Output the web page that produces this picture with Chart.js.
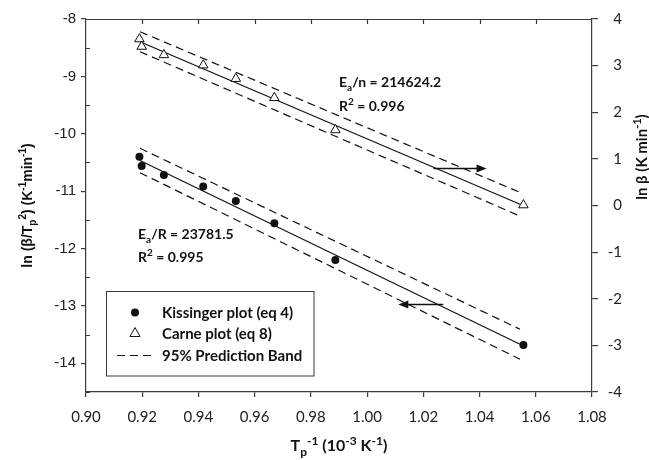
<!DOCTYPE html>
<html>
<head>
<meta charset="utf-8">
<script src="https://cdn.jsdelivr.net/npm/chart.js@4.4.0/dist/chart.umd.min.js"></script>
<style>
  html, body { margin: 0; padding: 0; background: #ffffff; }
  #caja { width: 649px; height: 460px; position: relative; }
</style>
</head>
<body>
<div id="caja"><canvas id="grafico"></canvas></div>
<script>
// datos
const invTp = [0.9190, 0.9198, 0.9277, 0.9417, 0.9533, 0.9670, 0.9887, 1.0556];
const kissinger = [-10.40, -10.56, -10.72, -10.92, -11.17, -11.56, -12.20, -13.68];
const carne = [3.57, 3.41, 3.23, 3.01, 2.72, 2.31, 1.62, 0.01];

// rectas de ajuste y bandas de prediccion (extremos)
const fitX = [0.9192, 1.0544];
const kisFit = [-10.465, -13.667];
const kisUpper = [-10.253, -13.406];
const kisLower = [-10.678, -13.929];
const carFit = [3.513, 0.026];
const carUpper = [3.727, 0.281];
const carLower = [3.298, -0.227];

const xTicks = [0.90, 0.92, 0.94, 0.96, 0.98, 1.00, 1.02, 1.04, 1.06, 1.08];
const leftTicks = [-14, -13, -12, -11, -10, -9, -8];
const rightTicks = [-4, -3, -2, -1, 0, 1, 2, 3, 4];
const legendLabels = ['Kissinger plot (eq 4)', 'Carne plot (eq 8)', '95% Prediction Band'];

const pts = (xs, ys) => xs.map((x, i) => ({ x: x, y: ys[i] }));
const INK = '#111111';
const AXIS = '#3a3a3a';

function richText(ctx, parts, x, y, size, family, align) {
    const small = Math.round(size * 0.72);
    const widths = parts.map(p => {
        ctx.font = 'bold ' + (p[1] === 'n' ? size : small) + 'px ' + family;
        return ctx.measureText(p[0]).width;
    });
    const total = widths.reduce((a, b) => a + b, 0);
    let cx = align === 'center' ? x - total / 2 : x;
    ctx.textAlign = 'left';
    ctx.textBaseline = 'alphabetic';
    parts.forEach((p, i) => {
        const s = p[1] === 'n' ? size : small;
        ctx.font = 'bold ' + s + 'px ' + family;
        const dy = p[1] === 'sub' ? size * 0.3 : (p[1] === 'sup' ? -size * 0.4 : 0);
        ctx.fillText(p[0], cx, y + dy);
        cx += widths[i];
    });
}

function arrow(ctx, x1, x2, y) {
    const dir = x2 > x1 ? 1 : -1;
    ctx.beginPath();
    ctx.moveTo(x1, y);
    ctx.lineTo(x2 - dir * 8, y);
    ctx.lineWidth = 1.5;
    ctx.stroke();
    ctx.beginPath();
    ctx.moveTo(x2, y);
    ctx.lineTo(x2 - dir * 10, y - 4);
    ctx.lineTo(x2 - dir * 10, y + 4);
    ctx.closePath();
    ctx.fill();
}

const extras = {
    id: 'extras',
    afterDraw(chart) {
        const ctx = chart.ctx;
        const a = chart.chartArea;
        const sx = chart.scales.x, sy = chart.scales.y, sy2 = chart.scales.y2;
        ctx.save();
        ctx.strokeStyle = AXIS;
        ctx.fillStyle = INK;
        ctx.lineWidth = 1.2;

        // marco superior con marcas hacia dentro
        ctx.beginPath();
        ctx.moveTo(a.left, a.top + 0.5);
        ctx.lineTo(a.right, a.top + 0.5);
        xTicks.slice(1, -1).forEach(v => {
            const px = Math.round(sx.getPixelForValue(v)) + 0.5;
            ctx.moveTo(px, a.top);
            ctx.lineTo(px, a.top + 5);
        });
        // marcas menores del eje izquierdo
        for (let v = -8.5; v >= -14.5; v -= 1) {
            const py = Math.round(sy.getPixelForValue(v)) + 0.5;
            ctx.moveTo(a.left, py);
            ctx.lineTo(a.left + 4, py);
        }
        ctx.stroke();

        // flechas
        ctx.strokeStyle = INK;
        arrow(ctx, sx.getPixelForValue(1.0236), sx.getPixelForValue(1.0425), Math.round(sy2.getPixelForValue(0.796)) + 0.5);
        arrow(ctx, sx.getPixelForValue(1.0271), sx.getPixelForValue(1.0111), Math.round(sy.getPixelForValue(-12.97)) + 0.5);

        // anotaciones
        ctx.fillStyle = INK;
        richText(ctx, [['E', 'n'], ['a', 'sub'], ['/n = 214624.2', 'n']], 339, 87, 14, 'Lato', 'left');
        richText(ctx, [['R', 'n'], ['2', 'sup'], [' = 0.996', 'n']], 339, 111, 14, 'Lato', 'left');
        richText(ctx, [['E', 'n'], ['a', 'sub'], ['/R = 23781.5', 'n']], 138, 239, 14, 'Lato', 'left');
        richText(ctx, [['R', 'n'], ['2', 'sup'], [' = 0.995', 'n']], 138, 262, 14, 'Lato', 'left');

        // titulos de ejes
        richText(ctx, [['T', 'n'], ['p', 'sub'], ['-1', 'sup'], [' (10', 'n'], ['-3', 'sup'], [' K', 'n'], ['-1', 'sup'], [')', 'n']],
            (a.left + a.right) / 2, 451, 16, 'Lato', 'center');
        ctx.save();
        ctx.translate(27, (a.top + a.bottom) / 2);
        ctx.rotate(-Math.PI / 2);
        richText(ctx, [['ln (\u03b2/T', 'n'], ['p', 'sub'], ['2', 'sup'], [') (K', 'n'], ['-1', 'sup'], ['min', 'n'], ['-1', 'sup'], [')', 'n']],
            0, 5, 14, '"Liberation Sans", Arial', 'center');
        ctx.restore();
        ctx.save();
        ctx.translate(642, 157);
        ctx.rotate(-Math.PI / 2);
        richText(ctx, [['ln \u03b2 (K min', 'n'], ['-1', 'sup'], [')', 'n']], 0, 5, 15, 'Lato', 'center');
        ctx.restore();

        // leyenda
        ctx.strokeStyle = AXIS;
        ctx.lineWidth = 1;
        ctx.fillStyle = '#ffffff';
        ctx.fillRect(106.5, 291.5, 207.5, 84.5);
        ctx.strokeRect(106.5, 291.5, 207.5, 84.5);
        ctx.fillStyle = INK;
        ctx.beginPath();
        ctx.arc(135, 312.5, 4, 0, Math.PI * 2);
        ctx.fill();
        ctx.beginPath();
        ctx.moveTo(135, 327.5);
        ctx.lineTo(140, 336.5);
        ctx.lineTo(130, 336.5);
        ctx.closePath();
        ctx.strokeStyle = INK;
        ctx.stroke();
        ctx.setLineDash([8, 5]);
        ctx.lineWidth = 1.2;
        ctx.beginPath();
        ctx.moveTo(117, 355.5);
        ctx.lineTo(153, 355.5);
        ctx.stroke();
        ctx.setLineDash([]);
        ctx.font = 'bold 15px Lato';
        ctx.textAlign = 'left';
        ctx.textBaseline = 'middle';
        ctx.fillText(legendLabels[0], 162, 313);
        ctx.fillText(legendLabels[1], 162, 334);
        ctx.fillText(legendLabels[2], 162, 356);
        ctx.restore();
    }
};

document.addEventListener('DOMContentLoaded', function () {
    const grafico = document.getElementById("grafico").getContext("2d");
    const linea = (data, eje, dash) => ({
        data: data,
        yAxisID: eje,
        showLine: true,
        pointRadius: 0,
        borderColor: INK,
        borderWidth: 1.2,
        borderDash: dash,
        fill: false
    });
    const myChart = new Chart(grafico, {
        type: "scatter",
        data: {
            datasets: [{
                label: legendLabels[0],
                data: pts(invTp, kissinger),
                yAxisID: 'y',
                pointStyle: 'circle',
                pointRadius: 4,
                backgroundColor: INK,
                borderColor: INK,
                borderWidth: 0
            },
            {
                label: legendLabels[1],
                data: pts(invTp, carne),
                yAxisID: 'y2',
                pointStyle: 'triangle',
                pointRadius: 5.5,
                backgroundColor: '#ffffff',
                borderColor: INK,
                borderWidth: 1
            },
            linea(pts(fitX, kisFit), 'y', []),
            linea(pts(fitX, kisUpper), 'y', [8, 5]),
            linea(pts(fitX, kisLower), 'y', [8, 5]),
            linea(pts(fitX, carFit), 'y2', []),
            linea(pts(fitX, carUpper), 'y2', [8, 5]),
            linea(pts(fitX, carLower), 'y2', [8, 5])
            ]
        }, options: {
            responsive: true,
            maintainAspectRatio: false,
            animation: false,
            layout: { padding: { top: 19, left: 0, right: 27, bottom: 0 } },
            scales: {
                x: {
                    type: 'linear',
                    min: 0.90,
                    max: 1.08,
                    afterBuildTicks: s => { s.ticks = xTicks.map(v => ({ value: v })); },
                    afterFit: s => { s.height = 68; },
                    ticks: {
                        callback: v => v.toFixed(2),
                        font: { family: 'Lato', size: 15 },
                        color: '#222222',
                        padding: 11,
                        maxRotation: 0,
                        autoSkip: false
                    },
                    grid: { drawOnChartArea: false, tickLength: 5, color: AXIS, lineWidth: 1.2 },
                    border: { color: AXIS, width: 1.2 }
                },
                y: {
                    position: 'left',
                    min: -14.5,
                    max: -8,
                    afterBuildTicks: s => { s.ticks = leftTicks.map(v => ({ value: v })); },
                    afterFit: s => { s.width = 86; },
                    ticks: {
                        font: { family: '"Liberation Sans", Arial', size: 15 },
                        color: '#222222',
                        padding: 5
                    },
                    grid: { drawOnChartArea: false, tickLength: 5, color: AXIS, lineWidth: 1.2 },
                    border: { color: AXIS, width: 1.2 }
                },
                y2: {
                    position: 'right',
                    min: -4,
                    max: 4,
                    afterBuildTicks: s => { s.ticks = rightTicks.map(v => ({ value: v })); },
                    afterFit: s => { s.width = 30; },
                    ticks: {
                        font: { family: 'Lato', size: 15 },
                        color: '#222222',
                        padding: 4,
                        crossAlign: 'far'
                    },
                    grid: { drawOnChartArea: false, tickLength: 6, color: AXIS, lineWidth: 1.2 },
                    border: { color: AXIS, width: 1.2 }
                }
            },
            plugins: {
                legend: { display: false },
                tooltip: { enabled: false }
            }
        },
        plugins: [extras]
    });
});
</script>
</body>
</html>
